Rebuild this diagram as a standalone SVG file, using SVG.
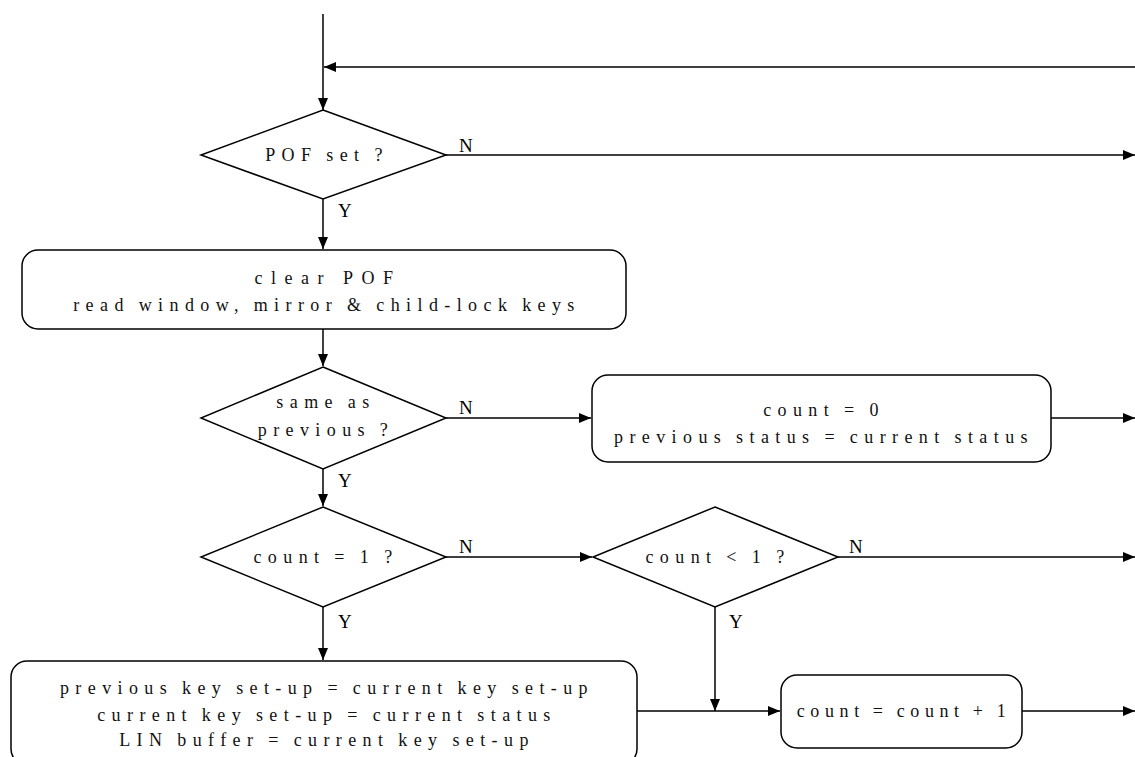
<svg xmlns="http://www.w3.org/2000/svg" width="1135" height="757" viewBox="0 0 1135 757">
<defs>
<style>
.shape{fill:#fff;stroke:#000;stroke-width:1.5}
.conn{fill:none;stroke:#000;stroke-width:1.5}
.t{font-family:"Liberation Serif","Times New Roman",serif;font-size:18px;letter-spacing:6.4px;word-spacing:-2px;text-anchor:middle;fill:#111}
.lbl{font-family:"Liberation Serif","Times New Roman",serif;font-size:19px;fill:#000}
</style>
<marker id="ah" viewBox="0 0 12 10" refX="12" refY="5" markerWidth="12" markerHeight="10" markerUnits="userSpaceOnUse" orient="auto">
<path d="M0,0 L12,5 L0,10 Z" fill="#000"/>
</marker>
</defs>
<rect width="1135" height="757" fill="#fff"/>
<g id="connectors">
<path class="conn" d="M323,14 V110" marker-end="url(#ah)"/>
<path class="conn" d="M1135,67 H324" marker-end="url(#ah)"/>
<path class="conn" d="M446,155 H1135" marker-end="url(#ah)"/>
<path class="conn" d="M323,199 V249" marker-end="url(#ah)"/>
<path class="conn" d="M323,329 V366" marker-end="url(#ah)"/>
<path class="conn" d="M446,418 H591" marker-end="url(#ah)"/>
<path class="conn" d="M1051,418 H1135" marker-end="url(#ah)"/>
<path class="conn" d="M323,469 V506" marker-end="url(#ah)"/>
<path class="conn" d="M446,557 H592" marker-end="url(#ah)"/>
<path class="conn" d="M838,557 H1135" marker-end="url(#ah)"/>
<path class="conn" d="M323,607 V660" marker-end="url(#ah)"/>
<path class="conn" d="M715,607 V711" marker-end="url(#ah)"/>
<path class="conn" d="M637,711 H780" marker-end="url(#ah)"/>
<path class="conn" d="M1022,711 H1135" marker-end="url(#ah)"/>
<text class="lbl" x="459" y="152">N</text>
<text class="lbl" x="338" y="217">Y</text>
<text class="lbl" x="459" y="414">N</text>
<text class="lbl" x="338" y="487">Y</text>
<text class="lbl" x="459" y="553">N</text>
<text class="lbl" x="338" y="628">Y</text>
<text class="lbl" x="849" y="553">N</text>
<text class="lbl" x="729" y="628">Y</text>
</g>
<g id="d-pof">
<polygon class="shape" points="323,110 446,155 323,199 201,155"/>
<text class="t" x="327" y="161">POF set ?</text>
</g>
<g id="b-clear">
<rect class="shape" x="22" y="250" width="604" height="79" rx="16"/>
<text class="t" x="328" y="284" style="letter-spacing:8.5px">clear POF</text>
<text class="t" x="327" y="311">read window, mirror &amp; child-lock keys</text>
</g>
<g id="d-same">
<polygon class="shape" points="323,367 446,418 323,469 201,418"/>
<text class="t" x="326" y="408">same as</text>
<text class="t" x="326" y="436">previous ?</text>
</g>
<g id="b-count0">
<rect class="shape" x="592" y="375" width="459" height="87" rx="16"/>
<text class="t" x="824" y="416">count = 0</text>
<text class="t" x="824" y="443">previous status = current status</text>
</g>
<g id="d-count1">
<polygon class="shape" points="323,507 446,557 323,607 201,557"/>
<text class="t" x="326" y="563">count = 1 ?</text>
</g>
<g id="d-countlt1">
<polygon class="shape" points="715,507 838,557 715,607 593,557"/>
<text class="t" x="718" y="563">count &lt; 1 ?</text>
</g>
<g id="b-setup">
<rect class="shape" x="11" y="661" width="626" height="104" rx="16"/>
<text class="t" x="327" y="694">previous key set-up = current key set-up</text>
<text class="t" x="327" y="721">current key set-up = current status</text>
<text class="t" x="327" y="746">LIN buffer = current key set-up</text>
</g>
<g id="b-inc">
<rect class="shape" x="781" y="675" width="241" height="73" rx="16"/>
<text class="t" x="904" y="717" style="letter-spacing:5.6px">count = count + 1</text>
</g>
</svg>
